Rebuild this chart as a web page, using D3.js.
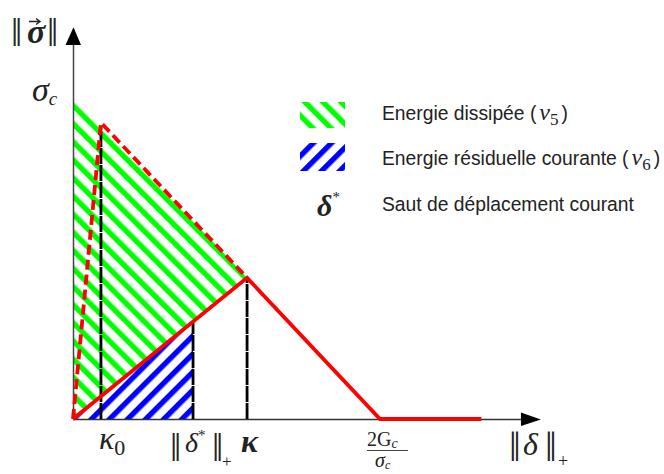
<!DOCTYPE html>
<html>
<head>
<meta charset="utf-8">
<script src="https://cdn.jsdelivr.net/npm/d3@7"></script>
<style>
  html, body { margin: 0; padding: 0; background: #fff; }
  svg { display: block; }
  .math { font-family: "Liberation Serif", "DejaVu Serif", serif; fill: #222; }
  .legend-text { font-family: "Liberation Sans", Arial, sans-serif; font-size: 19.3px; fill: #222; }
</style>
</head>
<body>
<svg id="chart" width="664" height="474"></svg>
<script>
// Bilinear cohesive law: displacement jump (x, in units of 2Gc/σc) vs traction (y, in units of σc)
const envelope      = [[0, 1], [1, 0]];                       // σc → 2Gc/σc
const currentLaw    = [[0, 0], [0.567, 0.433], [1, 0], [1.33, 0]];
const previousLaw   = [[0, 0], [0.091, 0.909], [0.567, 0.433]];
const dissipated    = [[0, 1], [0.567, 0.433], [0, 0]];       // ν5
const residual      = [[0, 0], [0.391, 0.299], [0.391, 0]];   // ν6
const guideX        = [0.091, 0.391, 0.567];                  // κ0, ‖δ*‖+, κ
const guideTop      = [0.895, 0.299, 0.433];
const legendLabels  = ["Energie dissipée (", "Energie résiduelle courante (", "Saut de déplacement courant"];
const legendIndex   = ["5", "6"];

const svg = d3.select("#chart");
const x = d3.scaleLinear().domain([0, 1]).range([73, 380]);
const y = d3.scaleLinear().domain([0, 1]).range([419, 93]);
const line = d3.line().x(d => x(d[0])).y(d => y(d[1]));

// hatch patterns
const defs = svg.append("defs");
function hatch(id, color, angle, period, width) {
  const p = defs.append("pattern")
    .attr("id", id).attr("patternUnits", "userSpaceOnUse")
    .attr("width", period).attr("height", period)
    .attr("patternTransform", `rotate(${angle})`);
  p.append("rect").attr("x", 0).attr("y", 0).attr("width", width).attr("height", period).attr("fill", color);
}
hatch("hatch-green", "#00ff00", -45, 12.8, 5.4);
hatch("hatch-blue", "#0000ff", 45, 12.8, 5.4);

// energy areas
svg.append("path").attr("d", line(dissipated) + "Z").attr("fill", "url(#hatch-green)");
svg.append("path").attr("d", line(residual) + "Z").attr("fill", "url(#hatch-blue)");

// axes
const xAxisEnd = 1.459, xArrowTip = 1.524;
const yAxisEnd = 1.147, yArrowTip = 1.202;
svg.append("line")
  .attr("x1", x(0)).attr("x2", x(xAxisEnd)).attr("y1", y(0) + 0.5).attr("y2", y(0) + 0.5)
  .attr("stroke", "#333").attr("stroke-width", 1.5);
svg.append("path")
  .attr("d", `M${x(xAxisEnd)},${y(0) - 6.5}L${x(xArrowTip)},${y(0) + 0.5}L${x(xAxisEnd)},${y(0) + 7}Z`)
  .attr("fill", "#000");
svg.append("line")
  .attr("x1", x(0) + 0.5).attr("x2", x(0) + 0.5).attr("y1", y(0)).attr("y2", y(yAxisEnd))
  .attr("stroke", "#444").attr("stroke-width", 1.5);
svg.append("path")
  .attr("d", `M${x(0) - 7.5},${y(yAxisEnd)}L${x(0) + 0.5},${y(yArrowTip)}L${x(0) + 8},${y(yAxisEnd)}Z`)
  .attr("fill", "#000");

// vertical guides
svg.selectAll("line.guide").data(guideX).join("line")
  .attr("class", "guide")
  .attr("x1", d => x(d)).attr("x2", d => x(d))
  .attr("y1", y(0)).attr("y2", (d, i) => y(guideTop[i]))
  .attr("stroke", "#000").attr("stroke-width", 2.8)
  .attr("stroke-dasharray", "16,1");

// previous (dashed) and current (solid) laws
svg.append("path").attr("d", line(previousLaw))
  .attr("fill", "none").attr("stroke", "#ff0000").attr("stroke-width", 3.8)
  .attr("stroke-dasharray", "10,5").attr("stroke-linejoin", "round");
svg.append("path").attr("d", line(currentLaw))
  .attr("fill", "none").attr("stroke", "#ff0000").attr("stroke-width", 3.8)
  .attr("stroke-linejoin", "miter");

// y-axis label ‖σ⃗‖
svg.append("text").attr("class", "math").attr("x", 11).attr("y", 46).attr("font-size", 40).text("‖");
svg.append("text").attr("class", "math").attr("x", 27).attr("y", 43)
  .attr("font-size", 34).attr("font-style", "italic").attr("font-weight", "bold").text("σ");
svg.append("path").attr("d", "M29,21.5H39M36,18.5L40,21.5L36,24.5").attr("stroke", "#222").attr("stroke-width", 1.4).attr("fill", "none");
svg.append("text").attr("class", "math").attr("x", 47).attr("y", 46).attr("font-size", 40).text("‖");

// σc on the y axis
const sc = svg.append("text").attr("class", "math").attr("x", 32).attr("y", 101).attr("font-size", 34).attr("font-style", "italic");
sc.append("tspan").text("σ");
sc.append("tspan").attr("font-size", 19).attr("dy", 4).text("c");

// x-axis labels
const k0 = svg.append("text").attr("class", "math").attr("x", x(guideX[0]) - 2).attr("y", 449).attr("font-size", 32).attr("font-style", "italic");
k0.append("tspan").text("κ");
k0.append("tspan").attr("font-style", "normal").attr("font-size", 22).attr("dy", 6).text("0");

svg.append("text").attr("class", "math").attr("x", 170).attr("y", 461).attr("font-size", 40).text("‖");
const ds = svg.append("text").attr("class", "math").attr("x", 185).attr("y", 452).attr("font-size", 28).attr("font-style", "italic");
ds.append("tspan").text("δ");
ds.append("tspan").attr("font-style", "normal").attr("font-size", 15).attr("dy", -12).text("*");
svg.append("text").attr("class", "math").attr("x", 212).attr("y", 461).attr("font-size", 40).text("‖");
svg.append("text").attr("class", "math").attr("x", 222).attr("y", 467).attr("font-size", 17).text("+");

svg.append("text").attr("class", "math").attr("x", x(guideX[2]) - 6).attr("y", 452)
  .attr("font-size", 32).attr("font-style", "italic").attr("font-weight", "bold").text("κ");

// 2Gc / σc
const num = svg.append("text").attr("class", "math").attr("x", 367).attr("y", 446).attr("font-size", 20).attr("fill", "#333");
num.append("tspan").text("2G");
num.append("tspan").attr("font-size", 14).attr("font-style", "italic").attr("dy", 2).text("c");
svg.append("line").attr("x1", 367).attr("x2", 408).attr("y1", 450.5).attr("y2", 450.5).attr("stroke", "#444").attr("stroke-width", 1);
const den = svg.append("text").attr("class", "math").attr("x", 375).attr("y", 467).attr("font-size", 20).attr("font-style", "italic");
den.append("tspan").text("σ");
den.append("tspan").attr("font-size", 12).attr("dy", 2).text("c");

// ‖δ‖+ at the end of the x axis
svg.append("text").attr("class", "math").attr("x", 509).attr("y", 461).attr("font-size", 42).text("‖");
svg.append("text").attr("class", "math").attr("x", 523).attr("y", 455).attr("font-size", 32).attr("font-style", "italic").text("δ");
svg.append("text").attr("class", "math").attr("x", 545).attr("y", 461).attr("font-size", 42).text("‖");
svg.append("text").attr("class", "math").attr("x", 558).attr("y", 467).attr("font-size", 18).text("+");

// legend
const lg = svg.append("g");
lg.append("rect").attr("x", 300).attr("y", 102).attr("width", 45).attr("height", 26).attr("fill", "url(#hatch-green)");
lg.append("rect").attr("x", 300).attr("y", 143).attr("width", 45).attr("height", 28).attr("fill", "url(#hatch-blue)");
const ld = lg.append("text").attr("class", "math").attr("x", 317).attr("y", 216).attr("font-size", 30)
  .attr("font-style", "italic").attr("font-weight", "bold");
ld.append("tspan").text("δ");
ld.append("tspan").attr("font-style", "normal").attr("font-weight", "normal").attr("font-size", 15).attr("dy", -14).text("*");

const baselines = [120, 165, 211];
legendLabels.forEach((t, i) => {
  const tx = lg.append("text").attr("class", "legend-text").attr("x", 382).attr("y", baselines[i]);
  tx.append("tspan").text(t);
  if (i < 2) {
    tx.append("tspan").attr("class", "math").attr("font-style", "italic").attr("font-size", 24).attr("dx", 3).text("ν");
    tx.append("tspan").attr("class", "math").attr("font-size", 17).attr("dy", 5).text(legendIndex[i]);
    tx.append("tspan").attr("dy", -5).attr("dx", 3).text(")");
  }
});
</script>
</body>
</html>
